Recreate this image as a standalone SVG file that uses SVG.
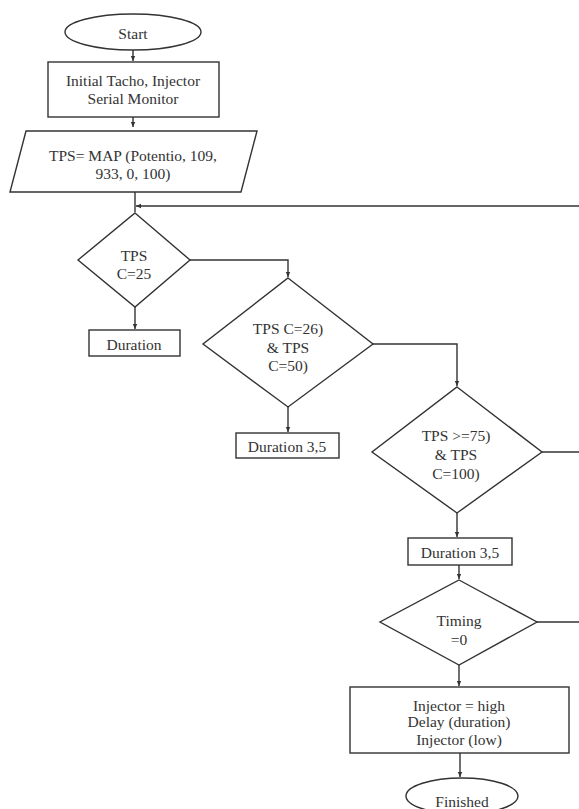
<svg xmlns="http://www.w3.org/2000/svg" width="579" height="809" viewBox="0 0 579 809">
<defs>
<style>
.s{fill:#fff;stroke:#333;stroke-width:1.4}
.c{fill:none;stroke:#333;stroke-width:1.4}
text{font-family:"Liberation Serif","DejaVu Serif",serif;font-size:15.5px;fill:#333;text-anchor:middle;dominant-baseline:central}
</style>
<marker id="a" markerWidth="6" markerHeight="6" refX="5" refY="3" orient="auto" markerUnits="userSpaceOnUse">
<path d="M0,0.8 L5,3 L0,5.2 Z" fill="#333"/>
</marker>
</defs>
<rect width="579" height="809" fill="#fff"/>
<g id="connectors">
<path class="c" d="M133,50 V61" marker-end="url(#a)"/>
<path class="c" d="M133,117 V127" marker-end="url(#a)"/>
<path class="c" d="M135,192 V212"/>
<path class="c" d="M579,206 H136" marker-end="url(#a)"/>
<path class="c" d="M190,260 H288 V277" marker-end="url(#a)"/>
<path class="c" d="M135,307 V329" marker-end="url(#a)"/>
<path class="c" d="M373,344 H457 V386" marker-end="url(#a)"/>
<path class="c" d="M288,407 V432" marker-end="url(#a)"/>
<path class="c" d="M542,452 H579"/>
<path class="c" d="M457,513 V537" marker-end="url(#a)"/>
<path class="c" d="M459,565 V579" marker-end="url(#a)"/>
<path class="c" d="M537,622 H579"/>
<path class="c" d="M459,665 V686" marker-end="url(#a)"/>
<path class="c" d="M460,753 V777" marker-end="url(#a)"/>
</g>
<g id="start">
<ellipse class="s" cx="133" cy="32" rx="68" ry="18"/>
<text x="133" y="33">Start</text>
</g>
<g id="init">
<rect class="s" x="48" y="62" width="171" height="55"/>
<text x="133" y="80">Initial Tacho, Injector</text>
<text x="133" y="98">Serial Monitor</text>
</g>
<g id="tps">
<polygon class="s" points="26,131 257,131 241,192 10,192"/>
<text x="133" y="155">TPS= MAP (Potentio, 109,</text>
<text x="133" y="173">933, 0, 100)</text>
</g>
<g id="d1">
<polygon class="s" points="135,213 190,260 135,307 78,260"/>
<text x="134" y="255">TPS</text>
<text x="134" y="273">C=25</text>
</g>
<g id="dur1">
<rect class="s" x="89" y="330" width="91" height="26"/>
<text x="134" y="344">Duration</text>
</g>
<g id="d2">
<polygon class="s" points="288,278 373,344 288,407 203,344"/>
<text x="288" y="328">TPS C=26)</text>
<text x="288" y="347">&amp; TPS</text>
<text x="288" y="365">C=50)</text>
</g>
<g id="dur2">
<rect class="s" x="236" y="433" width="103" height="25"/>
<text x="287" y="446">Duration 3,5</text>
</g>
<g id="d3">
<polygon class="s" points="457,387 542,452 457,513 372,452"/>
<text x="456" y="435">TPS &gt;=75)</text>
<text x="456" y="454">&amp; TPS</text>
<text x="456" y="473">C=100)</text>
</g>
<g id="dur3">
<rect class="s" x="408" y="538" width="104" height="27"/>
<text x="460" y="552">Duration 3,5</text>
</g>
<g id="d4">
<polygon class="s" points="459,580 537,622 459,665 380,622"/>
<text x="459" y="620">Timing</text>
<text x="459" y="639">=0</text>
</g>
<g id="inj">
<rect class="s" x="350" y="687" width="219" height="66"/>
<text x="459" y="705">Injector = high</text>
<text x="459" y="721">Delay (duration)</text>
<text x="459" y="739">Injector (low)</text>
</g>
<g id="finished">
<ellipse class="s" cx="462" cy="796" rx="56" ry="18"/>
<text x="462" y="801">Finished</text>
</g>
</svg>
